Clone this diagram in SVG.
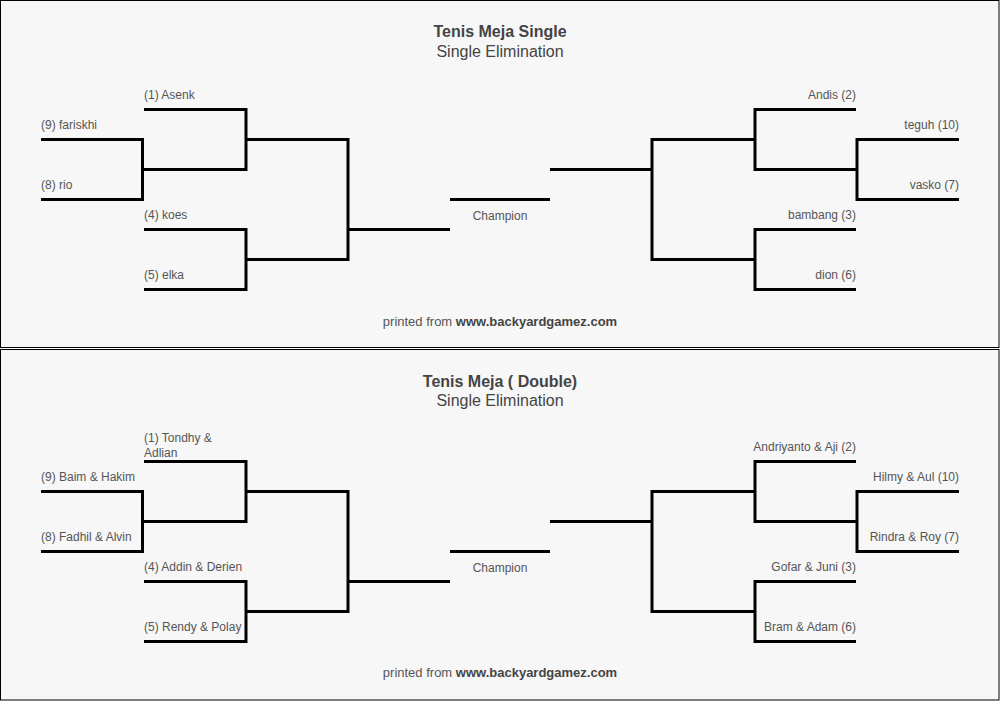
<svg xmlns="http://www.w3.org/2000/svg" width="1001" height="702" viewBox="0 0 1001 702">
<style>
.panel{fill:#f7f7f7;stroke:#000;stroke-width:1}
.ln{fill:none;stroke:#000;stroke-width:3;stroke-linejoin:miter;stroke-linecap:butt}
.lb{font-family:"Liberation Sans",Arial,sans-serif;font-size:12px;fill:#555}
.ft{font-family:"Liberation Sans",Arial,sans-serif;font-size:13px;fill:#555;text-anchor:middle}
.r{text-anchor:end}
.c{text-anchor:middle}
.t{font-family:"Liberation Sans",Arial,sans-serif;font-size:16px;fill:#444;text-anchor:middle}
.b{font-weight:bold}
</style>
<rect width="1001" height="702" fill="#fff"/>
<g id="panel-single">
<rect class="panel" x="0.5" y="0.5" width="998.5" height="347"/>
<text class="t b" x="500" y="37">Tenis Meja Single</text>
<text class="t" x="500" y="57">Single Elimination</text>
<text class="ft" x="500" y="325.5">printed from <tspan class="b" fill="#444">www.backyardgamez.com</tspan></text>
</g>
<g id="panel-double">
<rect class="panel" x="0.5" y="349.5" width="998.5" height="350.5"/>
<text class="t b" x="500" y="386.5">Tenis Meja ( Double)</text>
<text class="t" x="500" y="406">Single Elimination</text>
<text class="ft" x="500" y="676.5">printed from <tspan class="b" fill="#444">www.backyardgamez.com</tspan></text>
</g>

<!-- Panel 1 nodes -->
<g id="s-fariskhi"><path class="ln" d="M41,139.5H142.5"/><text class="lb" x="41" y="129">(9) fariskhi</text></g>
<g id="s-rio"><path class="ln" d="M41,199.5H142.5"/><text class="lb" x="41" y="189">(8) rio</text></g>
<g id="s-asenk"><path class="ln" d="M144,109.5H246"/><text class="lb" x="144" y="99">(1) Asenk</text></g>
<g id="s-koes"><path class="ln" d="M144,229.5H246"/><text class="lb" x="144" y="219">(4) koes</text></g>
<g id="s-elka"><path class="ln" d="M144,289.5H246"/><text class="lb" x="144" y="279">(5) elka</text></g>
<g id="s-champion"><path class="ln" d="M450,199.5H550"/><text class="lb c" x="500" y="220">Champion</text></g>
<g id="s-andis"><path class="ln" d="M755,109.5H856"/><text class="lb r" x="856" y="99">Andis (2)</text></g>
<g id="s-teguh"><path class="ln" d="M857,139.5H959"/><text class="lb r" x="959" y="129">teguh (10)</text></g>
<g id="s-vasko"><path class="ln" d="M857,199.5H959"/><text class="lb r" x="959" y="189">vasko (7)</text></g>
<g id="s-bambang"><path class="ln" d="M755,229.5H856"/><text class="lb r" x="856" y="219">bambang (3)</text></g>
<g id="s-dion"><path class="ln" d="M755,289.5H856"/><text class="lb r" x="856" y="279">dion (6)</text></g>

<!-- Panel 2 nodes -->
<g id="d-baim"><path class="ln" d="M41,491.5H142.5"/><text class="lb" x="41" y="481">(9) Baim &amp; Hakim</text></g>
<g id="d-fadhil"><path class="ln" d="M41,551.5H142.5"/><text class="lb" x="41" y="541">(8) Fadhil &amp; Alvin</text></g>
<g id="d-tondhy"><path class="ln" d="M144,461.5H246"/><text class="lb" x="144" y="442">(1) Tondhy &amp;</text><text class="lb" x="144" y="457">Adlian</text></g>
<g id="d-addin"><path class="ln" d="M144,581.5H246"/><text class="lb" x="144" y="571">(4) Addin &amp; Derien</text></g>
<g id="d-rendy"><path class="ln" d="M144,641.5H246"/><text class="lb" x="144" y="631">(5) Rendy &amp; Polay</text></g>
<g id="d-champion"><path class="ln" d="M450,551.5H550"/><text class="lb c" x="500" y="572">Champion</text></g>
<g id="d-andriyanto"><path class="ln" d="M755,461.5H856"/><text class="lb r" x="856" y="451">Andriyanto &amp; Aji (2)</text></g>
<g id="d-hilmy"><path class="ln" d="M857,491.5H959"/><text class="lb r" x="959" y="481">Hilmy &amp; Aul (10)</text></g>
<g id="d-rindra"><path class="ln" d="M857,551.5H959"/><text class="lb r" x="959" y="541">Rindra &amp; Roy (7)</text></g>
<g id="d-gofar"><path class="ln" d="M755,581.5H856"/><text class="lb r" x="856" y="571">Gofar &amp; Juni (3)</text></g>
<g id="d-bram"><path class="ln" d="M755,641.5H856"/><text class="lb r" x="856" y="631">Bram &amp; Adam (6)</text></g>

<g id="connectors">
<!-- Panel 1 left -->
<path class="ln" d="M142.5,138V201"/>
<path class="ln" d="M142.5,169.5H246"/>
<path class="ln" d="M246,108V171"/>
<path class="ln" d="M246,139.5H348"/>
<path class="ln" d="M246,228V291"/>
<path class="ln" d="M246,259.5H348"/>
<path class="ln" d="M348,138V261"/>
<path class="ln" d="M348,229.5H450"/>
<!-- Panel 1 right -->
<path class="ln" d="M550,169.5H652"/>
<path class="ln" d="M652,138V261"/>
<path class="ln" d="M652,139.5H755"/>
<path class="ln" d="M652,259.5H755"/>
<path class="ln" d="M755,108V171"/>
<path class="ln" d="M755,169.5H857"/>
<path class="ln" d="M857,138V201"/>
<path class="ln" d="M755,228V291"/>
<!-- Panel 2 left -->
<path class="ln" d="M142.5,490V553"/>
<path class="ln" d="M142.5,521.5H246"/>
<path class="ln" d="M246,460V523"/>
<path class="ln" d="M246,491.5H348"/>
<path class="ln" d="M246,580V643"/>
<path class="ln" d="M246,611.5H348"/>
<path class="ln" d="M348,490V613"/>
<path class="ln" d="M348,581.5H450"/>
<!-- Panel 2 right -->
<path class="ln" d="M550,521.5H652"/>
<path class="ln" d="M652,490V613"/>
<path class="ln" d="M652,491.5H755"/>
<path class="ln" d="M652,611.5H755"/>
<path class="ln" d="M755,460V523"/>
<path class="ln" d="M755,521.5H857"/>
<path class="ln" d="M857,490V553"/>
<path class="ln" d="M755,580V643"/>
</g>
</svg>
